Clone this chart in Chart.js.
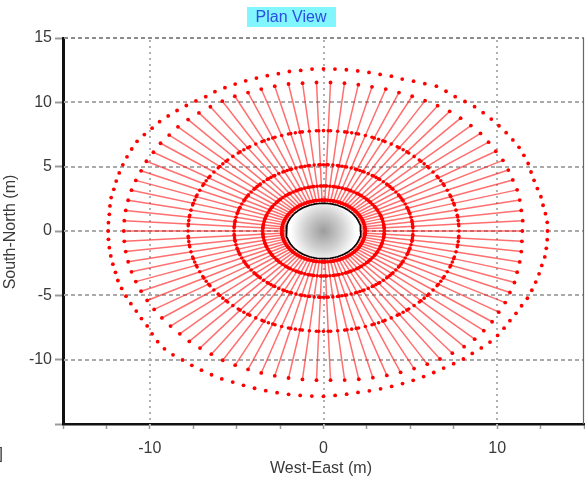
<!DOCTYPE html>
<html><head><meta charset="utf-8">
<script src="https://cdn.jsdelivr.net/npm/chart.js@4.4.1/dist/chart.umd.min.js"></script>
<style>html,body{margin:0;padding:0;background:#fff;overflow:hidden}canvas{display:block}</style>
</head><body>
<canvas id="c" width="588" height="484"></canvas>
<script>
// ---- data (metres) ----
const chartTitle = 'Plan View';
const xAxisTitle = 'West-East (m)';
const yAxisTitle = 'South-North (m)';
const xGridValues = [-10, 0, 10];
const yGridValues = [-10, -5, 0, 5, 10, 15];
const xLabelValues = [-10, 0, 10];
const yLabelValues = [15, 10, 5, 0, -5, -10];
const wellRadius = 2.15;
const ringRadii = [2.4, 3.5, 5.15, 7.8];
const spokeAngles = [0,4,8,12,16,20,24,28,32,36,40,44,48,52,56,60,64,68,72,76,80,84,88,92,96,100,104,108,112,116,120,124,128,132,136,140,144,148,152,156,160,164,168,172,176,180,184,188,192,196,200,204,208,212,216,220,224,228,232,236,240,244,248,252,256,260,264,268,272,276,280,284,288,292,296,300,304,308,312,316,320,324,328,332,336,340,344,348,352,356];
const spokeEnds = [
11.45,11.5,11.5,11.55,11.6,11.6,11.65,11.7,11.7,11.75,
11.8,11.8,11.8,11.8,11.75,11.7,11.65,11.6,11.6,11.55,
11.55,11.55,11.55,11.55,11.55,11.6,11.6,11.6,11.6,11.65,
11.65,11.65,11.65,11.65,11.65,11.6,11.6,11.55,11.55,11.5,
11.5,11.5,11.5,11.5,11.5,11.5,11.5,11.5,11.5,11.5,
11.5,11.5,11.5,11.5,11.5,11.5,11.5,11.55,11.55,11.55,
11.6,11.6,11.6,11.6,11.6,11.6,11.6,11.6,11.6,11.65,
11.7,11.75,11.8,11.85,11.9,11.95,12.0,12.05,12.1,12.1,
12.05,12.0,11.9,11.85,11.75,11.7,11.6,11.55,11.5,11.45];
const outerAngles = [0,3,6,9,12,15,18,21,24,27,30,33,36,39,42,45,48,51,54,57,60,63,66,69,72,75,78,81,84,87,90,93,96,99,102,105,108,111,114,117,120,123,126,129,132,135,138,141,144,147,150,153,156,159,162,165,168,171,174,177,180,183,186,189,192,195,198,201,204,207,210,213,216,219,222,225,228,231,234,237,240,243,246,249,252,255,258,261,264,267,270,273,276,279,282,285,288,291,294,297,300,303,306,309,312,315,318,321,324,327,330,333,336,339,342,345,348,351,354,357];
const outerRadii = [
12.9,12.9,12.85,12.8,12.8,12.75,12.75,12.8,12.9,12.95,
13.0,13.0,13.0,13.0,13.0,13.0,13.0,12.95,12.9,12.95,
13.0,12.85,12.75,12.65,12.65,12.6,12.6,12.6,12.6,12.6,
12.6,12.6,12.55,12.55,12.5,12.5,12.5,12.5,12.5,12.5,
12.5,12.45,12.5,12.55,12.6,12.65,12.7,12.7,12.75,12.8,
12.75,12.7,12.65,12.6,12.55,12.5,12.5,12.45,12.4,12.4,
12.4,12.4,12.4,12.4,12.4,12.4,12.45,12.45,12.45,12.45,
12.45,12.5,12.55,12.7,12.85,12.95,12.95,12.9,12.9,12.9,
12.9,12.9,12.85,12.85,12.85,12.85,12.85,12.85,12.85,12.85,
12.85,12.8,12.75,12.7,12.7,12.7,12.7,12.7,12.7,12.7,
12.7,12.7,12.75,12.8,12.8,12.85,12.9,12.9,12.85,12.8,
12.8,12.8,12.85,12.85,12.85,12.85,12.85,12.9,12.9,12.9];

// ---- build library data from the arrays ----
const rad = d => d * Math.PI / 180;
const polar = (r, a) => ({x: r * Math.cos(rad(a)), y: r * Math.sin(rad(a))});
const spokeLines = [];
spokeAngles.forEach((a, i) => { spokeLines.push(polar(wellRadius, a), polar(spokeEnds[i], a), {x: null, y: null}); });
const ringAngles = Array.from(new Set(spokeAngles.concat(outerAngles)));
const ringDots = [];
ringRadii.forEach(r => ringAngles.forEach(a => ringDots.push(polar(r, a))));
const endDots = spokeAngles.map((a, i) => polar(spokeEnds[i], a));
const outerDots = outerAngles.map((a, i) => polar(outerRadii[i], a));
const wellOutline = spokeAngles.map(a => polar(wellRadius, a));
wellOutline.push(polar(wellRadius, spokeAngles[0]));

const FONT = "'Liberation Sans', Arial, sans-serif";

const wellFill = (ctx) => {
  const chart = ctx.chart;
  if (!chart.chartArea) return '#dddddd';
  const cx = chart.scales.x.getPixelForValue(0), cy = chart.scales.y.getPixelForValue(0);
  const g = chart.ctx.createRadialGradient(cx, cy, 0, cx, cy, 33);
  g.addColorStop(0, '#9c9c9c');
  g.addColorStop(0.55, '#cfcfcf');
  g.addColorStop(1, '#ffffff');
  return g;
};

const decor = {
  id: 'decor',
  beforeDatasetsDraw(chart) {
    const {ctx, chartArea: a, scales: {x, y}} = chart;
    ctx.save();
    ctx.lineWidth = 2;
    ctx.setLineDash([4, 3]);
    yGridValues.forEach(v => {
      const py = Math.round(y.getPixelForValue(v));
      ctx.strokeStyle = v === 15 ? '#8c8c8c' : '#aaaaaa';
      ctx.beginPath(); ctx.moveTo(a.left + 1, py); ctx.lineTo(a.right, py); ctx.stroke();
    });
    ctx.strokeStyle = '#b0b0b0';
    ctx.setLineDash([2, 4]);
    xGridValues.forEach(v => {
      const px = Math.round(x.getPixelForValue(v));
      ctx.beginPath(); ctx.moveTo(px, a.top + 2); ctx.lineTo(px, a.bottom + 6); ctx.stroke();
    });
    ctx.setLineDash([]);
    ctx.lineWidth = 1.2;
    ctx.strokeStyle = '#666666';
    ctx.beginPath(); ctx.moveTo(a.right - 0.5, a.top); ctx.lineTo(a.right - 0.5, a.bottom); ctx.stroke();
    ctx.restore();
  },
  afterDraw(chart) {
    const {ctx} = chart;
    ctx.save();
    const cxT = 291;
    ctx.font = '16px ' + FONT;
    const w = ctx.measureText(chartTitle).width + 18;
    ctx.fillStyle = '#82f6ff';
    ctx.fillRect(Math.round(cxT - w / 2), 7, Math.round(w), 20);
    ctx.fillStyle = '#2a4ee0';
    ctx.textAlign = 'center'; ctx.textBaseline = 'middle';
    ctx.fillText(chartTitle, cxT, 17.5);
    ctx.fillStyle = '#3a3a3a';
    ctx.fillText(xAxisTitle, 321, 469);
    ctx.save();
    ctx.translate(11, 232); ctx.rotate(-Math.PI / 2);
    ctx.fillText(yAxisTitle, 0, 0);
    ctx.restore();
    ctx.textAlign = 'right';
    ctx.fillText(']', 3, 455);
    ctx.restore();
  }
};

const fitX = s => { s.height = 60; s.paddingLeft = 0; s.paddingRight = 0; };
const fitY = s => { s.width = 63; s.paddingTop = 0; s.paddingBottom = 0; };

new Chart(document.getElementById('c'), {
  type: 'scatter',
  data: {
    datasets: [
      {label: 'well', data: wellOutline, showLine: true, fill: 'shape', backgroundColor: wellFill,
       borderColor: '#000000', borderWidth: 1.6, pointRadius: 0, order: 0},
      {label: 'outer', data: outerDots, pointRadius: 1.9, pointBackgroundColor: '#ff0000', pointBorderWidth: 0, order: 1},
      {label: 'ends', data: endDots, pointRadius: 1.9, pointBackgroundColor: '#ff0000', pointBorderWidth: 0, order: 2},
      {label: 'rings', data: ringDots, pointRadius: 1.8, pointBackgroundColor: '#ff0000', pointBorderWidth: 0, order: 3},
      {label: 'spokes', data: spokeLines, showLine: true, spanGaps: false, pointRadius: 0,
       borderColor: 'rgba(255,15,15,0.6)', borderWidth: 1.5, order: 4}
    ]
  },
  options: {
    responsive: false, animation: false, events: [],
    layout: {padding: {top: 38, right: 0, left: 0, bottom: 0}},
    plugins: {legend: {display: false}, tooltip: {enabled: false}, title: {display: false}},
    scales: {
      x: {
        type: 'linear', min: -15, max: 15,
        afterFit: fitX,
        ticks: {stepSize: 2.5, autoSkip: false, maxRotation: 0, minRotation: 0, padding: 10, color: '#3a3a3a',
                font: {family: FONT, size: 16},
                callback: v => xLabelValues.includes(v) ? String(v) : ''},
        grid: {display: true, drawOnChartArea: false, drawTicks: true, tickLength: 5, tickColor: '#9a9a9a', tickWidth: 1.5},
        border: {display: true, color: '#111111', width: 2.5}
      },
      y: {
        type: 'linear', min: -15, max: 15,
        afterFit: fitY,
        ticks: {stepSize: 5, autoSkip: false, padding: 3, color: '#3a3a3a',
                font: {family: FONT, size: 16},
                callback: v => yLabelValues.includes(v) ? String(v) : ''},
        grid: {display: true, drawOnChartArea: false, drawTicks: true, tickLength: 8, tickColor: '#9a9a9a', tickWidth: 2},
        border: {display: true, color: '#111111', width: 3}
      }
    }
  },
  plugins: [decor]
});
</script>
</body></html>
